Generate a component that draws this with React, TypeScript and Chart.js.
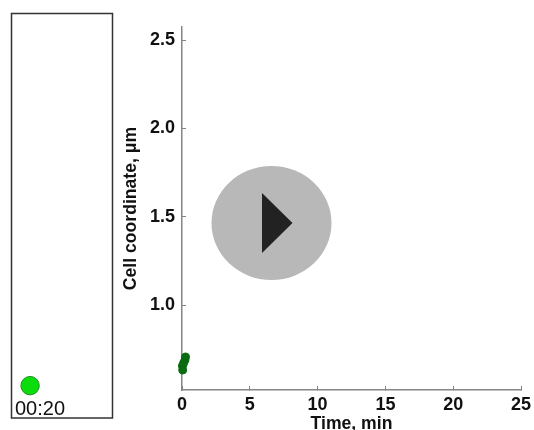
import React, { useEffect, useRef } from "react";
import { Chart, registerables } from "chart.js";

Chart.register(...registerables);

const timeMin = [0.26, 0.22, 0.12, 0.03, 0.05];
const coordUm = [0.706, 0.689, 0.672, 0.655, 0.632];
const yTicks = [1.0, 1.5, 2.0, 2.5];
const xTicks = [0, 5, 10, 15, 20, 25];
const cellX = [0.184];
const cellY = [0.08];
const clockLabel = "00:20";

const FONT = "'Liberation Sans', Arial, sans-serif";
const AXIS = "#858585";

export default function App() {
  const leftRef = useRef<HTMLCanvasElement>(null);
  const rightRef = useRef<HTMLCanvasElement>(null);

  useEffect(() => {
    const panelPlugin = {
      id: "panel",
      afterDraw(c: any) {
        const { ctx, chartArea: a } = c;
        ctx.save();
        ctx.strokeStyle = "#333";
        ctx.lineWidth = 1.5;
        ctx.strokeRect(a.left, a.top, a.right - a.left, a.bottom - a.top);
        ctx.fillStyle = "#111";
        ctx.font = `20px ${FONT}`;
        ctx.textBaseline = "alphabetic";
        ctx.fillText(clockLabel, 15, 415);
        ctx.restore();
      },
    };

    const left = new Chart(leftRef.current!, {
      type: "scatter",
      data: {
        datasets: [
          {
            data: cellX.map((x, i) => ({ x, y: cellY[i] })),
            backgroundColor: "#0bdc0b",
            borderColor: "#1f8f1f",
            borderWidth: 1,
            pointRadius: 9.2,
          },
        ],
      },
      options: {
        animation: false,
        responsive: false,
        layout: { autoPadding: false, padding: { left: 11.5, top: 13.5, right: 7.5, bottom: 12 } },
        plugins: { legend: { display: false }, tooltip: { enabled: false } },
        scales: {
          x: { display: false, min: 0, max: 1 },
          y: { display: false, min: 0, max: 1 },
        },
      },
      plugins: [panelPlugin],
    } as any);

    const right = new Chart(rightRef.current!, {
      type: "scatter",
      data: {
        datasets: [
          {
            data: timeMin.map((x, i) => ({ x, y: coordUm[i] })),
            backgroundColor: "#0a6b12",
            borderColor: "#0a6b12",
            pointRadius: 4,
            clip: false,
          },
        ],
      },
      options: {
        animation: false,
        responsive: false,
        layout: { autoPadding: false, padding: { left: 0, top: 27, right: 13, bottom: 0 } },
        plugins: { legend: { display: false }, tooltip: { enabled: false } },
        scales: {
          x: {
            type: "linear",
            min: 0,
            max: 25,
            afterFit: (s: any) => {
              s.height = 40;
              s.paddingRight = 0;
            },
            afterBuildTicks: (s: any) => {
              s.ticks = xTicks.map((value) => ({ value }));
            },
            grid: { drawOnChartArea: false, tickLength: -4, color: AXIS },
            border: { color: AXIS, width: 1.5 },
            ticks: {
              font: { family: FONT, size: 18, weight: "bold" },
              color: "#111",
              padding: 8,
              maxRotation: 0,
              autoSkip: false,
            },
            title: {
              display: true,
              text: "Time, min",
              font: { family: FONT, size: 17.6, weight: "bold" },
              color: "#111",
              padding: { top: 0, bottom: -5 },
            },
          },
          y: {
            type: "linear",
            min: 0.519,
            max: 2.574,
            afterFit: (s: any) => {
              s.width = 182;
            },
            afterBuildTicks: (s: any) => {
              s.ticks = yTicks.map((value) => ({ value }));
            },
            grid: { drawOnChartArea: false, tickLength: -4, color: AXIS },
            border: { color: AXIS, width: 1.5 },
            ticks: {
              font: { family: FONT, size: 18, weight: "bold" },
              color: "#111",
              padding: 11,
              autoSkip: false,
              callback: (v: any) => Number(v).toFixed(1),
            },
            title: {
              display: true,
              text: "Cell coordinate, \u03bcm",
              font: { family: FONT, size: 17.6, weight: "bold" },
              color: "#111",
              padding: { top: 121, bottom: 0 },
            },
          },
        },
      },
    } as any);

    return () => {
      left.destroy();
      right.destroy();
    };
  }, []);

  const blur = "blur(0.45px)";
  return (
    <div style={{ position: "fixed", left: 0, top: 0, width: 534, height: 430, background: "#fff", overflow: "hidden" }}>
      <canvas ref={leftRef} width={120} height={430} style={{ position: "absolute", left: 0, top: 0, filter: blur }} />
      <canvas ref={rightRef} width={534} height={430} style={{ position: "absolute", left: 0, top: 0, filter: blur }} />
      <svg width={534} height={430} style={{ position: "absolute", left: 0, top: 0 }}>
        <ellipse cx={271.5} cy={223} rx={60} ry={57} fill="#b8b8b8" />
        <polygon points="262,193 262,253 292.5,223" fill="#222" />
      </svg>
    </div>
  );
}
